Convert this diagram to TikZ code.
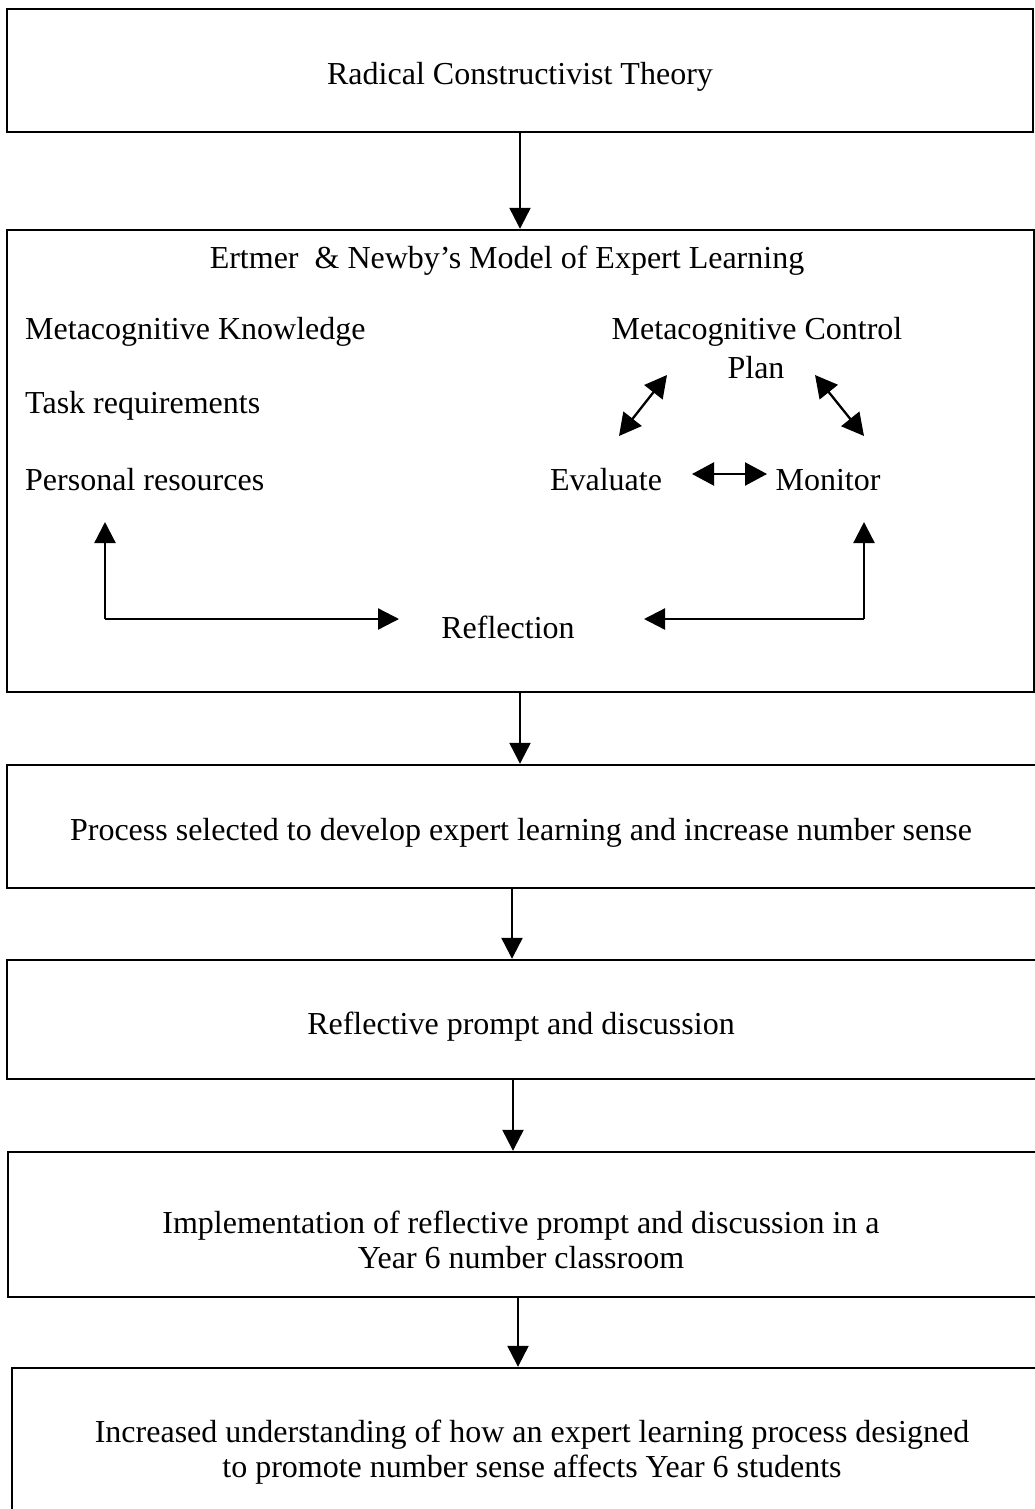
\documentclass[tikz,border=0pt]{standalone}
\usepackage{fontspec}
\setmainfont{Liberation Serif}
\usetikzlibrary{arrows.meta}
\begin{document}
\begin{tikzpicture}[x=1pt,y=-1pt,
  box/.style={draw,line width=2.4pt,rectangle,inner sep=0pt},
  txt/.style={font=\fontsize{32}{35.5}\selectfont,inner sep=0pt,align=center},
  arr/.style={line width=2.3pt,-{Triangle[length=21pt,width=21pt]}},
  darr/.style={line width=2.3pt,{Triangle[length=22pt,width=23pt]}-{Triangle[length=22pt,width=23pt]}}]
\fill[white] (0,0) rectangle (1035,1509);
\useasboundingbox (0,0) rectangle (1035,1509);
\clip (0,0) rectangle (1035,1509);
% boxes
\node[box,minimum width=1026pt,minimum height=123pt] (b1) at (520,70.5) {};
\node[box,minimum width=1027pt,minimum height=462pt] (b2) at (520.5,461) {};
\node[box,minimum width=1033pt,minimum height=123pt] (b3) at (523.5,826.5) {};
\node[box,minimum width=1033pt,minimum height=119pt] (b4) at (523.5,1019.5) {};
\node[box,minimum width=1032pt,minimum height=145pt] (b5) at (524,1224.5) {};
\node[box,minimum width=1028pt,minimum height=147pt] (b6) at (526,1441.5) {};
% texts
\node[txt] (t1) at (520,77) {Radical Constructivist Theory};
\node[txt] (t2) at (507,261) {Ertmer~~\& Newby's Model of Expert Learning};
\node[txt,anchor=west] (mk) at (25,332) {Metacognitive Knowledge};
\node[txt,anchor=west] (tr) at (25,406) {Task requirements};
\node[txt,anchor=west] (pr) at (25,480) {Personal resources};
\node[txt] (mc) at (757,332) {Metacognitive Control};
\node[txt] (pl) at (756,368) {Plan};
\node[txt] (ev) at (606,480) {Evaluate};
\node[txt] (mo) at (828,480) {Monitor};
\node[txt] (re) at (508,627) {Reflection};
\node[txt] (t3) at (521,833) {Process selected to develop expert learning and increase number sense};
\node[txt] (t4) at (521,1027) {Reflective prompt and discussion};
\node[txt] (t5) at (521,1240) {Implementation of reflective prompt and discussion in a\\Year 6 number classroom};
\node[txt] (t6) at (532,1452) {Increased understanding of how an expert learning process designed\\to promote number sense affects Year 6 students};
% coordinates inside model box
\coordinate (p1) at (667,375);
\coordinate (e1) at (619,436);
\coordinate (p2) at (815,375);
\coordinate (m1) at (864,436);
\coordinate (e2) at (692,474);
\coordinate (m2) at (767,474);
\coordinate (pu) at (105,522);
\coordinate (L) at (105,619);
\coordinate (rl) at (399,619);
\coordinate (mu) at (864,522);
\coordinate (R) at (864,619);
\coordinate (rr) at (644,619);
% connectors between boxes
\draw[arr] (b1.south) -- ([xshift=-0.5pt]b2.north);
\draw[arr] ([xshift=-0.5pt]b2.south) -- ([xshift=-3.5pt]b3.north);
\draw[arr] ([xshift=-11.5pt]b3.south) -- ([xshift=-11.5pt]b4.north);
\draw[arr] ([xshift=-10.5pt]b4.south) -- ([xshift=-11pt]b5.north);
\draw[arr] ([xshift=-6pt]b5.south) -- ([xshift=-8pt]b6.north);
% model arrows
\draw[darr] (p1) -- (e1);
\draw[darr] (p2) -- (m1);
\draw[darr] (e2) -- (m2);
\draw[arr] (L) -- (pu);
\draw[arr] (L) -- (rl);
\draw[arr] (R) -- (mu);
\draw[arr] (R) -- (rr);
\end{tikzpicture}
\end{document}
